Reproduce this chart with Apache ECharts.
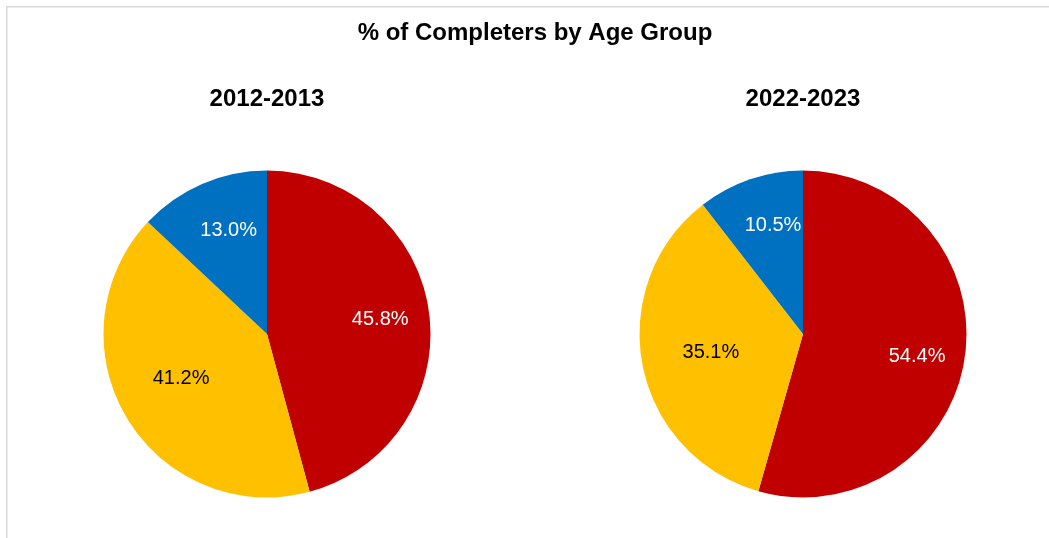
<!DOCTYPE html>
<html>
<head>
<meta charset="utf-8">
<script src="https://cdn.jsdelivr.net/npm/echarts@6/dist/echarts.min.js"></script>
<style>
html,body{margin:0;padding:0;background:#fff;}
#c{width:1049px;height:538px;}
</style>
</head>
<body>
<div id="c"></div>
<script>
const chartTitle = '% of Completers by Age Group';
const periods = ['2012-2013', '2022-2023'];
const ageGroups = ['Age Group 1', 'Age Group 2', 'Age Group 3'];
const values2012 = [45.8, 41.2, 13.0];
const values2022 = [54.4, 35.1, 10.5];

// styling / layout (not data)
const colors = ['#C00000', '#FFC000', '#0070C0'];
const labelColors = ['#ffffff', '#000000', '#ffffff'];
const labelNudges = [
  [[0, 1], [12, -14], [7, 1]],
  [[1, 7], [20, -3], [7, 0]]
];
const R = 163.5;
const centers = [[267, 334], [803, 334]];
const FONT = '"Liberation Sans", Arial, sans-serif';

function mk(vals) {
  return vals.map((v, i) => ({ name: ageGroups[i], value: v }));
}
const allVals = [values2012, values2022];

const series = [];
allVals.forEach((vals, k) => {
  series.push({
    type: 'pie',
    center: centers[k],
    radius: [0, R],
    startAngle: 90,
    clockwise: true,
    silent: true,
    label: { show: false },
    labelLine: { show: false },
    itemStyle: { color: p => colors[p.dataIndex] },
    data: mk(vals),
    animation: false
  });
  series.push({
    type: 'pie',
    center: centers[k],
    radius: [R * 0.36, R],
    startAngle: 90,
    clockwise: true,
    silent: true,
    itemStyle: { color: 'rgba(0,0,0,0)' },
    labelLine: { show: false },
    label: {
      show: true,
      position: 'inside',
      fontFamily: FONT,
      fontSize: 20,
      formatter: p => p.value.toFixed(1) + '%'
    },
    data: mk(vals).map((d, i) => Object.assign(d, {
      label: { color: labelColors[i], offset: labelNudges[k][i] }
    })),
    animation: false,
    z: 3
  });
});

const chart = echarts.init(document.getElementById('c'), null, { renderer: 'canvas' });
chart.setOption({
  backgroundColor: '#ffffff',
  animation: false,
  title: [
    { text: chartTitle, left: 535, textAlign: 'center', top: 21, padding: 0,
      textStyle: { fontFamily: FONT, fontSize: 24, fontWeight: 'bold', color: '#000' } },
    { text: periods[0], left: 267, textAlign: 'center', top: 87, padding: 0,
      textStyle: { fontFamily: FONT, fontSize: 24, fontWeight: 'bold', color: '#000' } },
    { text: periods[1], left: 803, textAlign: 'center', top: 87, padding: 0,
      textStyle: { fontFamily: FONT, fontSize: 24, fontWeight: 'bold', color: '#000' } }
  ],
  graphic: [{
    type: 'rect',
    shape: { x: 6.75, y: 6.75, width: 2000, height: 2000 },
    style: { fill: 'none', stroke: '#d9d9d9', lineWidth: 1.5 },
    silent: true, z: -1
  }],
  series: series
});
</script>
</body>
</html>
